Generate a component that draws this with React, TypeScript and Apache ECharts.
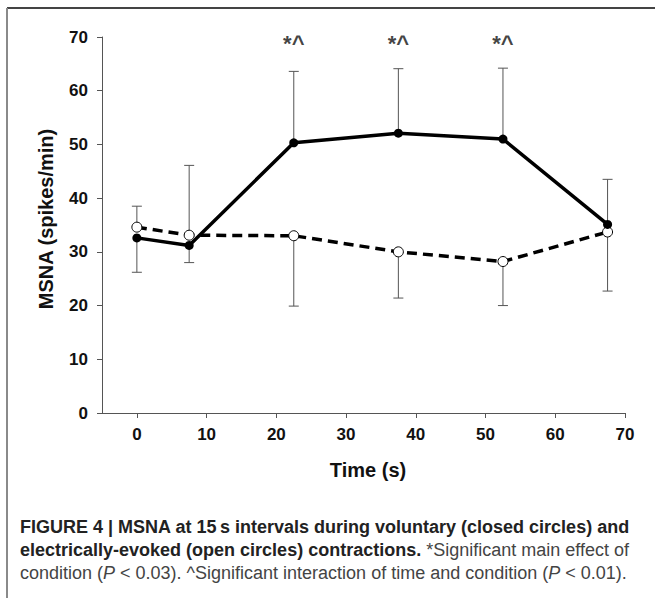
import React, { useEffect, useRef } from "react";
import * as echarts from "echarts";

const timePoints = [0, 7.5, 22.5, 37.5, 52.5, 67.5];
const closedMean = [32.6, 31.2, 50.3, 52.1, 51.0, 35.1];
const openMean = [34.6, 33.1, 33.0, 30.0, 28.2, 33.7];
// end of each one-sided error bar (value axis units)
const closedBarEnd = [26.2, 28.0, 63.6, 64.1, 64.2, 43.5];
const openBarEnd = [38.5, 46.1, 19.9, 21.4, 20.0, 22.7];
const sigTimes = [22.5, 37.5, 52.5];
const sigLevel = 68.7;
const sigMark = "*^";
const xTicks = [0, 10, 20, 30, 40, 50, 60, 70];

const FONT = "'Liberation Sans', Arial, Helvetica, sans-serif";

export default function App() {
  const ref = useRef<HTMLDivElement>(null);

  useEffect(() => {
    document.body.style.margin = "0";
    const chart = echarts.init(ref.current!, null, { renderer: "svg" });

    const errData = [
      ...timePoints.map((t, i) => [t, closedMean[i], closedBarEnd[i]]),
      ...timePoints.map((t, i) => [t, openMean[i], openBarEnd[i]]),
    ];

    const option: any = {
      animation: false,
      backgroundColor: "#ffffff",
      grid: { left: 102, right: 30, top: 37, bottom: 185 },
      xAxis: {
        type: "value",
        min: -5,
        max: 70,
        splitLine: { show: false },
        axisLine: { onZero: false, lineStyle: { color: "#555", width: 1 } },
        axisTick: {
          customValues: xTicks,
          length: 5,
          lineStyle: { color: "#555", width: 1 },
        },
        axisLabel: {
          customValues: xTicks,
          formatter: (v: number) => (v % 10 === 0 && v >= 0 ? String(v) : ""),
          margin: 13,
          fontSize: 17,
          fontWeight: "bold",
          fontFamily: FONT,
          color: "#111",
        },
      },
      yAxis: {
        type: "value",
        min: 0,
        max: 70,
        interval: 10,
        splitLine: { show: false },
        axisLine: { show: true, onZero: false, lineStyle: { color: "#555", width: 1 } },
        axisTick: { show: true, length: 5, lineStyle: { color: "#555", width: 1 } },
        axisLabel: {
          margin: 14,
          fontSize: 17,
          fontWeight: "bold",
          fontFamily: FONT,
          color: "#111",
        },
      },
      series: [
        {
          type: "custom",
          name: "errorbars",
          z: 1,
          encode: { x: 0, y: [1, 2] },
          data: errData,
          renderItem: (params: any, api: any) => {
            const x = api.value(0);
            const p0 = api.coord([x, api.value(1)]);
            const p1 = api.coord([x, api.value(2)]);
            const hw = 5;
            const st = { stroke: "#555", lineWidth: 1 };
            return {
              type: "group",
              children: [
                { type: "line", shape: { x1: p0[0], y1: p0[1], x2: p1[0], y2: p1[1] }, style: st },
                { type: "line", shape: { x1: p1[0] - hw, y1: p1[1], x2: p1[0] + hw, y2: p1[1] }, style: st },
              ],
            };
          },
        },
        {
          type: "line",
          name: "Electrically-evoked",
          z: 3,
          data: timePoints.map((t, i) => [t, openMean[i]]),
          lineStyle: { color: "#000", width: 3.5, type: [10, 6] },
          symbol: "circle",
          symbolSize: 10,
          itemStyle: { color: "#fff", borderColor: "#000", borderWidth: 1 },
        },
        {
          type: "line",
          name: "Voluntary",
          z: 4,
          data: timePoints.map((t, i) => [t, closedMean[i]]),
          lineStyle: { color: "#000", width: 3.5 },
          symbol: "circle",
          symbolSize: 9,
          itemStyle: { color: "#000", borderColor: "#000", borderWidth: 0 },
        },
        {
          type: "scatter",
          name: "sig",
          z: 5,
          symbolSize: 1,
          itemStyle: { color: "rgba(0,0,0,0)" },
          data: sigTimes.map((t) => [t, sigLevel]),
          label: {
            show: true,
            position: "inside",
            formatter: () => sigMark,
            fontSize: 22,
            fontWeight: "bold",
            fontFamily: FONT,
            color: "#111",
          },
        },
      ],
      graphic: [
        {
          type: "line",
          shape: { x1: 7, y1: 8, x2: 655, y2: 8 },
          style: { stroke: "#444", lineWidth: 2 },
        },
        {
          type: "line",
          shape: { x1: 7, y1: 8, x2: 7, y2: 598 },
          style: { stroke: "#8a8a8a", lineWidth: 2 },
        },
        {
          type: "text",
          x: 46,
          y: 219,
          rotation: Math.PI / 2,
          style: {
            text: "MSNA (spikes/min)",
            align: "center",
            verticalAlign: "middle",
            font: `bold 20px ${FONT}`,
            fill: "#111",
          },
        },
        {
          type: "text",
          x: 368,
          y: 470,
          style: {
            text: "Time (s)",
            align: "center",
            verticalAlign: "middle",
            font: `bold 20px ${FONT}`,
            fill: "#111",
          },
        },
        {
          type: "text",
          x: 20,
          y: 527,
          style: {
            text: "FIGURE 4 | MSNA at 15\u2009s intervals during voluntary (closed circles) and",
            verticalAlign: "middle",
            font: `bold 18px ${FONT}`,
            fill: "#222",
          },
        },
        {
          type: "text",
          x: 20,
          y: 550,
          style: {
            text: "{b|electrically-evoked (open circles) contractions.}{r| *Significant main effect of}",
            verticalAlign: "middle",
            font: `18px ${FONT}`,
            rich: {
              b: { fontWeight: "bold", fontSize: 18, fontFamily: FONT, fill: "#222" },
              r: { fontWeight: "normal", fontSize: 18, fontFamily: FONT, fill: "#444" },
            },
          },
        },
        {
          type: "text",
          x: 20,
          y: 573,
          style: {
            text: "{r|condition (}{i|P}{r| < 0.03). ^Significant interaction of time and condition (}{i|P}{r| < 0.01).}",
            verticalAlign: "middle",
            font: `18px ${FONT}`,
            rich: {
              r: { fontWeight: "normal", fontSize: 18, fontFamily: FONT, fill: "#444" },
              i: { fontWeight: "normal", fontStyle: "italic", fontSize: 18, fontFamily: FONT, fill: "#444" },
            },
          },
        },
      ],
    };

    chart.setOption(option);
    return () => chart.dispose();
  }, []);

  return <div ref={ref} style={{ width: 655, height: 598 }} />;
}
